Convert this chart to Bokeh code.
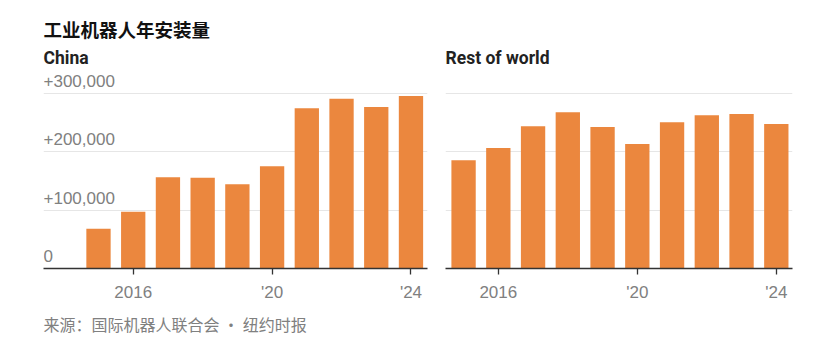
from bokeh.plotting import figure
from bokeh.models import Range1d, Label, FixedTicker, Title
from bokeh.layouts import row
from bokeh.embed import file_html
from bokeh.resources import INLINE

# ---- data ----
years = [2015, 2016, 2017, 2018, 2019, 2020, 2021, 2022, 2023, 2024]
china = [68000, 97000, 156000, 155000, 144000, 175000, 274000, 290000, 276000, 295000]
rest_of_world = [185000, 206000, 243000, 267000, 242000, 213000, 250000, 262000, 264000, 247000]
x_ticks = [2016, 2020, 2024]
x_tick_labels = ["2016", "'20", "'24"]
y_ticks = [0, 100000, 200000, 300000]
y_tick_labels = ["0", "+100,000", "+200,000", "+300,000"]
title_text = "工业机器人年安装量"
panel_titles = ["China", "Rest of world"]
source_text = "来源：国际机器人联合会 • 纽约时报"

BAR = "#EB873E"
GRID = "#e6e6e6"
GREY = "#808080"
DARK = "#333333"
HEAD = "#222222"
CJK = "Noto Sans CJK SC"
HEADFONT = "Roboto"
SANS = "Liberation Sans"

Y_MAX = 338462


def make_panel(width, left, right, xr, values, name):
    p = figure(width=width, height=356, output_backend="svg", toolbar_location=None,
               x_range=Range1d(*xr), y_range=Range1d(0, Y_MAX),
               min_border_left=left, min_border_right=right,
               min_border_top=70, min_border_bottom=88,
               y_axis_location=None, background_fill_color="white",
               border_fill_color="white")
    p.outline_line_color = None
    p.xgrid.visible = False
    p.ygrid.ticker = FixedTicker(ticks=y_ticks[1:])
    p.ygrid.grid_line_color = GRID
    p.ygrid.grid_line_width = 1
    p.vbar(x=years, top=values, width=0.7, color=BAR, line_color=None)
    ax = p.xaxis[0]
    ax.ticker = FixedTicker(ticks=x_ticks)
    ax.major_label_overrides = {t: l for t, l in zip(x_ticks, x_tick_labels)}
    ax.minor_tick_line_color = None
    ax.major_tick_in = 0
    ax.major_tick_out = 6
    ax.major_tick_line_color = DARK
    ax.axis_line_color = DARK
    ax.axis_line_width = 1.3
    ax.major_tick_line_width = 1.3
    ax.major_label_standoff = 8
    ax.major_label_text_font = SANS
    ax.major_label_text_font_size = "17px"
    ax.major_label_text_color = GREY
    p.add_layout(Title(text=name, align="left", text_font=HEADFONT, text_font_style="bold",
                       text_font_size="17.5px", text_color=HEAD, standoff=5), "above")
    return p


p1 = make_panel(430, 43, 3, (2013.416, 2024.476), china, panel_titles[0])
p2 = make_panel(399, 15, 37, (2014.48, 2024.466), rest_of_world, panel_titles[1])

for yv, lab in zip(y_ticks, y_tick_labels):
    p1.add_layout(Label(x=0, y=yv, x_units="screen", y_units="data", y_offset=12.5,
                        text=lab, text_font=SANS, text_font_size="17px",
                        text_color=GREY, text_baseline="alphabetic"))

p1.add_layout(Title(text=title_text, align="left", text_font=CJK, text_font_style="bold",
                    text_font_size="18.5px", text_color="#111111", standoff=4), "above")
p1.add_layout(Title(text=source_text, align="left", text_font=CJK, text_font_style="normal",
                    text_font_size="16px", text_color=GREY, standoff=10), "below")

layout = row(p1, p2, spacing=0)
open("out.html", "w").write(file_html(layout, INLINE))
